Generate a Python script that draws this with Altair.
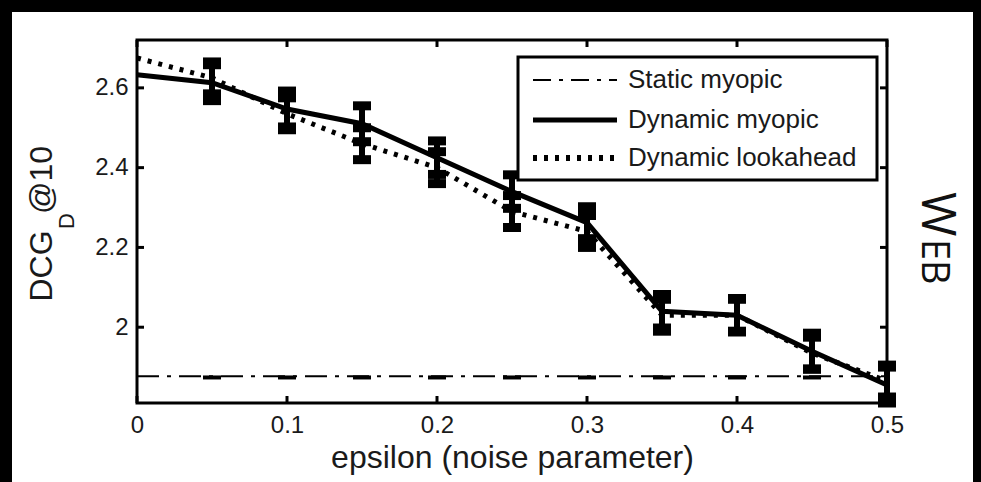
import altair as alt
import pandas as pd

# ---------------- data ----------------
eps = [0.0, 0.05, 0.1, 0.15, 0.2, 0.25, 0.3, 0.35, 0.4, 0.45, 0.5]
static_myopic = [1.877, 1.877, 1.877, 1.877, 1.877, 1.877, 1.877, 1.877, 1.877, 1.877, 1.877]
static_err = [None, 0.003, 0.003, 0.003, 0.003, 0.003, 0.003, 0.003, 0.003, 0.003, None]
dyn_myopic = [2.633, 2.613, 2.547, 2.510, 2.425, 2.340, 2.262, 2.040, 2.030, 1.940, 1.855]
myopic_err = [None, 0.045, 0.045, 0.045, 0.042, 0.042, 0.040, 0.042, 0.042, 0.045, 0.045]
dyn_lookahead = [2.675, 2.625, 2.535, 2.460, 2.400, 2.290, 2.240, 2.030, 2.030, 1.935, 1.865]
lookahead_err = [None, 0.040, 0.040, 0.040, 0.040, 0.040, 0.040, 0.040, 0.040, 0.040, 0.040]
series = ["Static myopic", "Dynamic myopic", "Dynamic lookahead"]
x_ticks = [0.0, 0.1, 0.2, 0.3, 0.4, 0.5]
y_ticks = [2.0, 2.2, 2.4, 2.6]
x_title = "epsilon (noise parameter)"
y_title = ["DCG", "D", "@10"]
side_label = ["W", "EB"]

# ---------------- tables ----------------
rows = []
for name, vals, errs in [(series[0], static_myopic, static_err),
                         (series[1], dyn_myopic, myopic_err),
                         (series[2], dyn_lookahead, lookahead_err)]:
    for e, v, er in zip(eps, vals, errs):
        rows.append({"eps": e, "value": v, "series": name,
                     "lo": None if er is None else v - er,
                     "hi": None if er is None else v + er})
df = pd.DataFrame(rows)
err_df = df.dropna(subset=["lo"])
xt_df = pd.DataFrame({"eps": x_ticks})
yt_df = pd.DataFrame({"value": y_ticks})
one = pd.DataFrame({"k": [0]})

W, H = 750, 363
FONT = "Liberation Sans"

xs = alt.Scale(domain=[0, 0.5], nice=False, zero=False)
ys = alt.Scale(domain=[1.81, 2.72], nice=False, zero=False)
xaxis = alt.Axis(values=x_ticks, format="~g", title=x_title, labelPadding=10,
                 labelFlush=False, titlePadding=5, titleFontSize=32, titleFont=FONT,
                 titleFontWeight="normal", titleColor="#1a1a1a")
yaxis = alt.Axis(values=y_ticks, format="~g", title=None, labelPadding=9, labelFlush=False)
X = alt.X("eps:Q", scale=xs, axis=xaxis)
Y = alt.Y("value:Q", scale=ys, axis=yaxis)

# black border strips around the white paper
def strip(x1, x2, y1, y2):
    return alt.Chart(one).mark_rect(fill="black", stroke=None).encode(
        x=alt.value(x1), x2=alt.value(x2), y=alt.value(y1), y2=alt.value(y2))

borders = [strip(-137, -125, -40, 442), strip(-137, 844, -40, -28), strip(836, 844, -40, 442)]

static_line = alt.Chart(df[df.series == series[0]]).mark_line(
    color="black", strokeWidth=2, strokeDash=[22, 8, 4, 8]).encode(x=X, y=Y)
myopic_line = alt.Chart(df[df.series == series[1]]).mark_line(
    color="black", strokeWidth=5).encode(x=X, y=Y)
look_line = alt.Chart(df[df.series == series[2]]).mark_line(
    color="black", strokeWidth=5, strokeDash=[4, 7]).encode(x=X, y=Y)

big_err = err_df[err_df.series != series[0]]
small_err = err_df[err_df.series == series[0]]
err_rule = alt.Chart(big_err).mark_rule(color="black", strokeWidth=6, opacity=1).encode(
    x=X, y=alt.Y("lo:Q", scale=ys), y2="hi:Q")
cap_lo = alt.Chart(big_err).mark_tick(color="black", orient="horizontal", size=18,
                                      thickness=9, opacity=1).encode(x=X, y=alt.Y("lo:Q", scale=ys))
cap_hi = alt.Chart(big_err).mark_tick(color="black", orient="horizontal", size=18,
                                      thickness=9, opacity=1).encode(x=X, y=alt.Y("hi:Q", scale=ys))
cap_static = alt.Chart(small_err).mark_tick(color="black", orient="horizontal", size=18,
                                            thickness=4, opacity=1).encode(x=X, y=alt.Y("lo:Q", scale=ys))

# inward ticks
tick_b = alt.Chart(xt_df).mark_rule(color="black", strokeWidth=3).encode(
    x=X, y=alt.value(H), y2=alt.value(H - 7))
tick_t = alt.Chart(xt_df).mark_rule(color="black", strokeWidth=3).encode(
    x=X, y=alt.value(0), y2=alt.value(7))
tick_l = alt.Chart(yt_df).mark_rule(color="black", strokeWidth=3).encode(
    y=Y, x=alt.value(0), x2=alt.value(7))
tick_r = alt.Chart(yt_df).mark_rule(color="black", strokeWidth=3).encode(
    y=Y, x=alt.value(W), x2=alt.value(W - 7))

frame = alt.Chart(one).mark_rect(fill=None, stroke="black", strokeWidth=3).encode(
    x=alt.value(0), x2=alt.value(W), y=alt.value(0), y2=alt.value(H))

# legend
leg_box = alt.Chart(one).mark_rect(fill="white", stroke="black", strokeWidth=3).encode(
    x=alt.value(381), x2=alt.value(740), y=alt.value(17), y2=alt.value(140))
leg_rows = [40, 80, 118]
leg_styles = [dict(strokeWidth=2, strokeDash=[18, 8, 4, 8]),
              dict(strokeWidth=5),
              dict(strokeWidth=6, strokeDash=[4, 7])]
leg_layers = []
for ry, st, name in zip(leg_rows, leg_styles, series):
    leg_layers.append(alt.Chart(one).mark_rule(color="black", **st).encode(
        x=alt.value(396), x2=alt.value(480), y=alt.value(ry)))
    leg_layers.append(alt.Chart(one).mark_text(
        font=FONT, fontSize=26, align="left", baseline="middle", color="#1a1a1a").encode(
        x=alt.value(491), y=alt.value(ry), text=alt.value(name)))

# y title (with subscript)
yt1 = alt.Chart(one).mark_text(font=FONT, fontSize=32, angle=270, align="center",
                               baseline="alphabetic", color="#1a1a1a").encode(
    x=alt.value(-85), y=alt.value(226), text=alt.value(y_title[0]))
yt2 = alt.Chart(one).mark_text(font=FONT, fontSize=22, angle=270, align="center",
                               baseline="alphabetic", color="#1a1a1a").encode(
    x=alt.value(-63), y=alt.value(181), text=alt.value(y_title[1]))
yt3 = alt.Chart(one).mark_text(font=FONT, fontSize=32, angle=270, align="center",
                               baseline="alphabetic", color="#1a1a1a").encode(
    x=alt.value(-85), y=alt.value(140), text=alt.value(y_title[2]))

# side label
s1 = alt.Chart(one).mark_text(font="Open Sans", fontSize=48, angle=90, align="left",
                              baseline="alphabetic", color="#111111").encode(
    x=alt.value(785), y=alt.value(152), text=alt.value(side_label[0]))
s2 = alt.Chart(one).mark_text(font="Open Sans", fontSize=38, angle=90, align="left",
                              baseline="alphabetic", color="#111111").encode(
    x=alt.value(785), y=alt.value(199), text=alt.value(side_label[1]))

chart = alt.layer(
    *borders, static_line, cap_static, look_line, myopic_line, err_rule, cap_lo, cap_hi,
    leg_box, *leg_layers, tick_b, tick_t, tick_l, tick_r, frame,
    yt1, yt2, yt3, s1, s2
).properties(
    width=W, height=H,
    autosize=alt.AutoSizeParams(type="none"),
    padding={"left": 137, "top": 40, "right": 94, "bottom": 79},
    background="white",
).configure_view(stroke=None).configure_axis(
    grid=False, ticks=False, domain=False,
    labelFont=FONT, labelFontSize=24, labelColor="#1a1a1a",
)

chart.save("out.html", embed_options={"renderer": "svg", "actions": False})
